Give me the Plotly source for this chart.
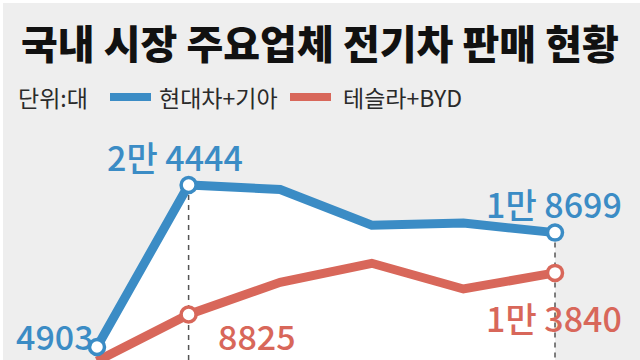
import plotly.graph_objects as go

# ---- data ----
periods = ["p1", "p2", "p3", "p4", "p5", "p6"]
hyundai_kia = [4903, 24444, 23900, 19600, 19850, 18699]
tesla_byd = [3200, 8825, 12700, 15000, 11900, 13840]
series_names = ["현대차+기아", "테슬라+BYD"]
title_text = "국내 시장 주요업체 전기차 판매 현황"
unit_text = "단위:대"
label_texts_blue = {0: "4903", 1: "2만 4444", 5: "1만 8699"}
label_texts_red = {1: "8825", 5: "1만 3840"}

# ---- style ----
BLUE = "#3b8cc5"
RED = "#d8675a"
BG = "#eeeeee"
FONT = "Noto Sans CJK KR"
W, H = 640, 360
ML, MT = 3, 3
PW, PH = W - ML, H - MT


def pxx(x):
    return (x - ML) / PW


def pxy(y):
    return (H - y) / PH


xs = list(range(len(periods)))
x_unit = (555 - 97) / (len(periods) - 1)
x0 = -(97 - ML) / x_unit
xr = [x0, x0 + PW / x_unit]
yr = [3335, 46390]

fig = go.Figure()

# white area under the blue line
fig.add_trace(go.Scatter(x=xs, y=hyundai_kia, mode="lines", fill="tozeroy",
                         fillcolor="white", line=dict(width=0, color="white"),
                         hoverinfo="skip", showlegend=False, cliponaxis=True))

# dashed guide lines at the 2nd and last points
for i in (1, len(periods) - 1):
    fig.add_trace(go.Scatter(x=[xs[i], xs[i]], y=[hyundai_kia[i], 0], mode="lines",
                             line=dict(color="#555555", width=1.5, dash="5px,5px"),
                             hoverinfo="skip", showlegend=False))

for vals, col, name in ((tesla_byd, RED, series_names[1]), (hyundai_kia, BLUE, series_names[0])):
    fig.add_trace(go.Scatter(x=xs, y=vals, mode="lines", name=name,
                             line=dict(color=col, width=9), showlegend=False,
                             cliponaxis=False))

# markers only at labelled points
for vals, col, labels in ((tesla_byd, RED, label_texts_red), (hyundai_kia, BLUE, label_texts_blue)):
    idx = [0, 1, len(periods) - 1]
    fig.add_trace(go.Scatter(x=[xs[i] for i in idx], y=[vals[i] for i in idx], mode="markers",
                             marker=dict(size=15, color="white", line=dict(color=col, width=3.5)),
                             showlegend=False, cliponaxis=False))

annotations = []
# title
annotations.append(dict(x=pxx(320), y=pxy(42), xref="paper", yref="paper", text=title_text,
                        showarrow=False, font=dict(family=FONT, size=40, color="#111111", weight=900),
                        xanchor="center", yanchor="middle"))
# legend row
leg_font = dict(family=FONT, size=23, color="#2a2a2a")
annotations.append(dict(x=pxx(16), y=pxy(97), xref="paper", yref="paper", text=unit_text,
                        showarrow=False, font=leg_font, xanchor="left", yanchor="middle"))
annotations.append(dict(x=pxx(157), y=pxy(97), xref="paper", yref="paper", text=series_names[0],
                        showarrow=False, font=leg_font, xanchor="left", yanchor="middle"))
annotations.append(dict(x=pxx(341), y=pxy(97), xref="paper", yref="paper", text=series_names[1],
                        showarrow=False, font=leg_font, xanchor="left", yanchor="middle"))

# value labels
blue_shift = {0: (-42, 12), 1: (-14, 28), 5: (-1, 29)}
red_shift = {1: (68, -21), 5: (-1, -45)}
for i, t in label_texts_blue.items():
    dx, dy = blue_shift[i]
    annotations.append(dict(x=xs[i], y=hyundai_kia[i], xref="x", yref="y", text=t, showarrow=False,
                            xshift=dx, yshift=dy, font=dict(family=FONT, size=34, color=BLUE, weight=500),
                            xanchor="center", yanchor="middle"))
for i, t in label_texts_red.items():
    dx, dy = red_shift[i]
    annotations.append(dict(x=xs[i], y=tesla_byd[i], xref="x", yref="y", text=t, showarrow=False,
                            xshift=dx, yshift=dy, font=dict(family=FONT, size=34, color=RED, weight=500),
                            xanchor="center", yanchor="middle"))

shapes = [
    dict(type="rect", xref="paper", yref="paper", x0=pxx(110), x1=pxx(151), y0=pxy(101), y1=pxy(93),
         fillcolor=BLUE, line=dict(width=0)),
    dict(type="rect", xref="paper", yref="paper", x0=pxx(290), x1=pxx(331), y0=pxy(101), y1=pxy(93),
         fillcolor=RED, line=dict(width=0)),
]

fig.update_layout(
    width=W, height=H,
    margin=dict(l=ML, r=0, t=MT, b=0, pad=0),
    paper_bgcolor="white", plot_bgcolor=BG,
    xaxis=dict(range=xr, visible=False, fixedrange=True),
    yaxis=dict(range=yr, visible=False, fixedrange=True),
    annotations=annotations, shapes=shapes,
    showlegend=False,
)

fig.write_html("out.html")
